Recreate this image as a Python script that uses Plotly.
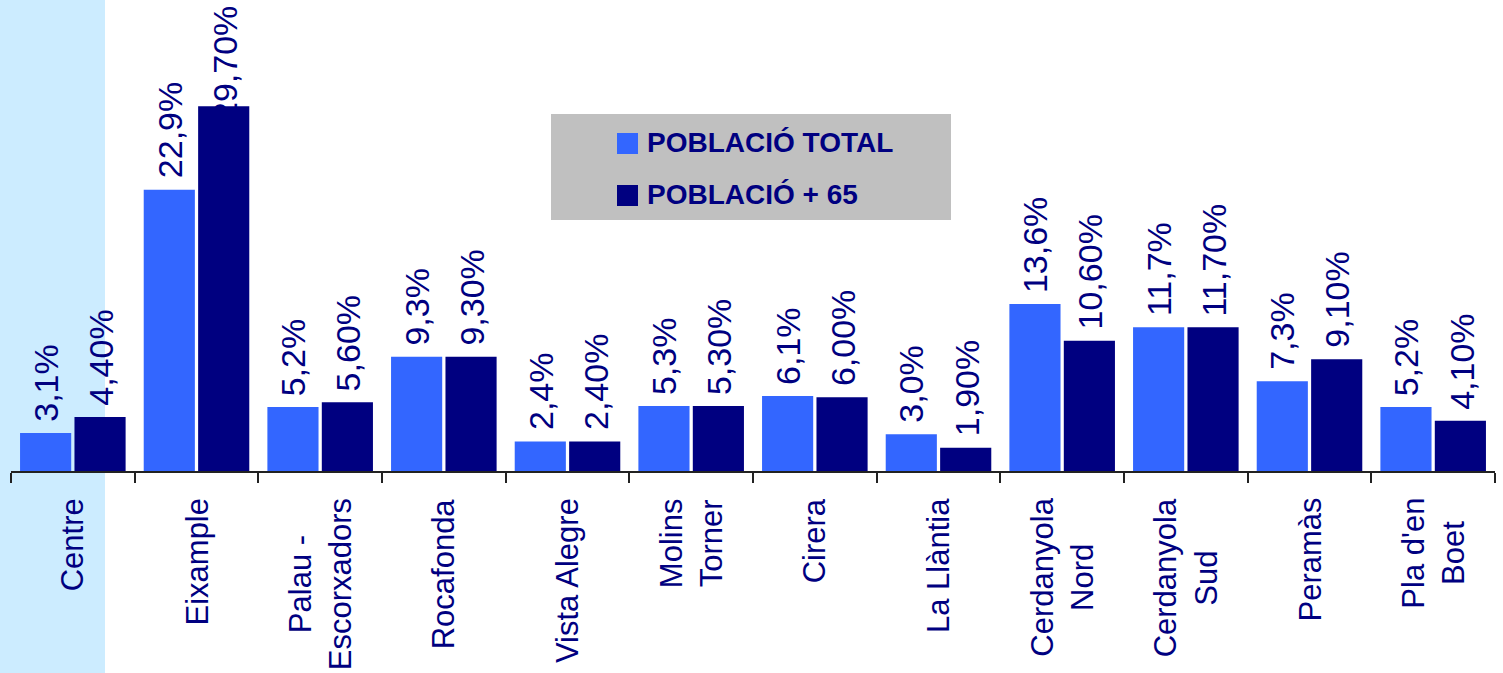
import plotly.graph_objects as go

categories = ["Centre", "Eixample", "Palau -<br>Escorxadors", "Rocafonda", "Vista Alegre",
              "Molins<br>Torner", "Cirera", "La Llàntia", "Cerdanyola<br>Nord",
              "Cerdanyola<br>Sud", "Peramàs", "Pla d'en<br>Boet"]
total_vals = [3.1, 22.9, 5.2, 9.3, 2.4, 5.3, 6.1, 3.0, 13.6, 11.7, 7.3, 5.2]
senior_vals = [4.4, 29.7, 5.6, 9.3, 2.4, 5.3, 6.0, 1.9, 10.6, 11.7, 9.1, 4.1]
total_labels = ["3,1%", "22,9%", "5,2%", "9,3%", "2,4%", "5,3%", "6,1%", "3,0%", "13,6%", "11,7%", "7,3%", "5,2%"]
senior_labels = ["4,40%", "29,70%", "5,60%", "9,30%", "2,40%", "5,30%", "6,00%", "1,90%", "10,60%", "11,70%", "9,10%", "4,10%"]
series_names = ["POBLACIÓ TOTAL", "POBLACIÓ + 65"]

LIGHT = "#3366FF"
DARK = "#000080"
TXT = "#000080"
FONT = "Liberation Sans, Arial, sans-serif"

W, H = 1503, 673
ML, MR, MT, MB = 11, 8, 0, 202
PW = W - ML - MR
PH = H - MT - MB
YMAX = 38.34
PX_PER_UNIT = PH / YMAX

fig = go.Figure()
fig.add_trace(go.Bar(x=categories, y=total_vals, name=series_names[0], marker=dict(color=LIGHT, line=dict(width=0)), showlegend=False))
fig.add_trace(go.Bar(x=categories, y=senior_vals, name=series_names[1], marker=dict(color=DARK, line=dict(width=0)), showlegend=False))

annotations = []
LABEL_FS = 34
def label_len(s):
    w = {",": 0.278, "%": 0.889}
    return sum(w.get(c, 0.556) for c in s) * LABEL_FS

for vals, labels, shift in ((total_vals, total_labels, -27), (senior_vals, senior_labels, 28)):
    for c, v, lab in zip(categories, vals, labels):
        top_px = v * PX_PER_UNIT
        if top_px + label_len(lab) + 14 > PH:
            annotations.append(dict(x=c, y=1, xref="x", yref="paper", yanchor="top", xanchor="center",
                                    xshift=shift, yshift=-4, text=lab, textangle=-90, showarrow=False,
                                    font=dict(family=FONT, size=LABEL_FS, color=TXT)))
        else:
            annotations.append(dict(x=c, y=v, xref="x", yref="y", yanchor="bottom", xanchor="center",
                                    xshift=shift, yshift=9, text=lab, textangle=-90, showarrow=False,
                                    font=dict(family=FONT, size=LABEL_FS, color=TXT)))

for c in categories:
    annotations.append(dict(x=c, y=0, xref="x", yref="y", yanchor="top", xanchor="center",
                            yshift=-25, text=c, textangle=-90, showarrow=False, align="center",
                            font=dict(family=FONT, size=31, color=TXT)))

def px_x(p):
    return (p - ML) / PW

def px_y(p):
    return 1 - (p - MT) / PH

shapes = [
    dict(type="rect", xref="paper", yref="paper", x0=px_x(0), x1=px_x(105), y0=px_y(H), y1=px_y(0),
         fillcolor="#CCECFF", line=dict(width=0), layer="below"),
    dict(type="rect", xref="paper", yref="paper", x0=px_x(551), x1=px_x(951), y0=px_y(220), y1=px_y(114),
         fillcolor="#C0C0C0", line=dict(width=0), layer="above"),
    dict(type="rect", xref="paper", yref="paper", x0=px_x(617), x1=px_x(638), y0=px_y(154), y1=px_y(133),
         fillcolor=LIGHT, line=dict(width=0), layer="above"),
    dict(type="rect", xref="paper", yref="paper", x0=px_x(617), x1=px_x(638), y0=px_y(206), y1=px_y(185),
         fillcolor=DARK, line=dict(width=0), layer="above"),
]
annotations.append(dict(x=px_x(645), y=px_y(143), xref="paper", yref="paper", xanchor="left", yanchor="middle",
                        text="<b>" + series_names[0] + "</b>", showarrow=False,
                        font=dict(family=FONT, size=28, color=TXT)))
annotations.append(dict(x=px_x(645), y=px_y(194), xref="paper", yref="paper", xanchor="left", yanchor="middle",
                        text="<b>" + series_names[1] + "</b>", showarrow=False,
                        font=dict(family=FONT, size=28, color=TXT)))

fig.update_layout(
    width=W, height=H,
    margin=dict(l=ML, r=MR, t=MT, b=MB, pad=0),
    paper_bgcolor="white", plot_bgcolor="rgba(0,0,0,0)",
    barmode="group", bargap=0.12, bargroupgap=0.06,
    showlegend=False,
    shapes=shapes, annotations=annotations,
    font=dict(family=FONT, color=TXT),
)
fig.update_xaxes(showticklabels=False, ticks="outside", tickson="boundaries", ticklen=10, tickwidth=1.5,
                 tickcolor="#222222", showline=True, linecolor="#222222", linewidth=2, showgrid=False,
                 zeroline=False)
fig.update_yaxes(range=[0, YMAX], visible=False, showgrid=False, zeroline=False)

fig.write_html("out.html")
